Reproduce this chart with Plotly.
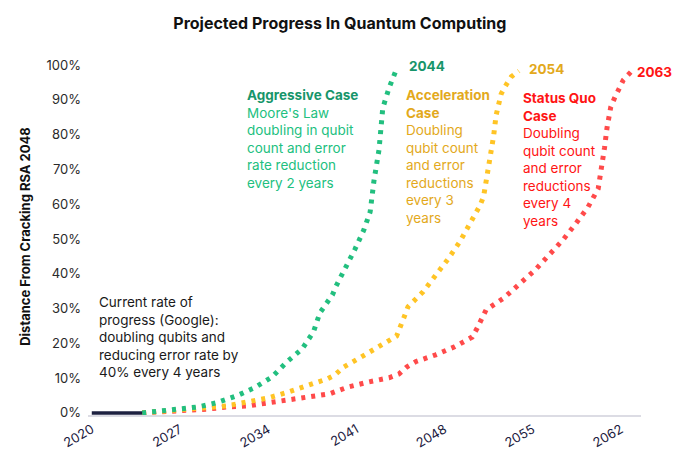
import plotly.graph_objects as go

# current rate (solid dark segment)
current_years = [2020, 2024]
current_vals = [0, 0]

# Aggressive case - doubling every 2 years
aggressive_years = [2024, 2026.8, 2028.4, 2029.9, 2031.5, 2032.9, 2034.3, 2035.5, 2036.7, 2037.6,
                    2038.1, 2039.1, 2039.4, 2040.9, 2041.6, 2042.1, 2042.4, 2042.8, 2043.1, 2043.6, 2044.2]
aggressive_vals = [0, 0.011, 0.017, 0.029, 0.049, 0.072, 0.103, 0.147, 0.184, 0.233,
                   0.287, 0.339, 0.365, 0.471, 0.526, 0.578, 0.667, 0.756, 0.876, 0.934, 0.989]

# Acceleration case - every 3 years
accel_years = [2024, 2027, 2030.7, 2032.4, 2034.0, 2035.6, 2037.1, 2038.7, 2039.3, 2040.0, 2041.4,
               2042.8, 2044.2, 2044.8, 2045.1, 2046.3, 2047.3, 2048.3, 2049.2, 2050.0, 2050.8,
               2051.1, 2051.4, 2051.7, 2051.9, 2052.1, 2052.5, 2052.9, 2053.3, 2053.9]
accel_vals = [0, 0.008, 0.020, 0.032, 0.043, 0.060, 0.078, 0.098, 0.109, 0.132, 0.161,
              0.190, 0.221, 0.276, 0.305, 0.348, 0.394, 0.443, 0.491, 0.540, 0.595,
              0.621, 0.681, 0.739, 0.796, 0.856, 0.917, 0.943, 0.966, 0.983]

# Status quo case - every 4 years
status_years = [2024, 2025.9, 2027.6, 2029.2, 2030.7, 2032.4, 2034.0, 2035.7, 2037.3, 2038.9,
                2039.7, 2040.4, 2042.0, 2043.6, 2044.4, 2045.0, 2045.7, 2047.3, 2048.8, 2050.2,
                2050.6, 2050.9, 2051.3, 2052.7, 2053.9, 2055.2, 2056.3, 2057.4, 2058.4, 2059.4,
                2060.2, 2060.5, 2060.7, 2060.9, 2061.2, 2061.5, 2061.8, 2062.2, 2062.8]
status_vals = [0, 0.003, 0.009, 0.011, 0.017, 0.020, 0.029, 0.037, 0.046, 0.055,
               0.066, 0.075, 0.089, 0.101, 0.112, 0.132, 0.147, 0.167, 0.190, 0.218,
               0.244, 0.270, 0.296, 0.330, 0.371, 0.411, 0.454, 0.497, 0.543, 0.592,
               0.644, 0.704, 0.761, 0.819, 0.879, 0.905, 0.931, 0.957, 0.980]

x_ticks = [2020, 2027, 2034, 2041, 2048, 2055, 2062]
y_ticks = [0, 0.1, 0.2, 0.3, 0.4, 0.5, 0.6, 0.7, 0.8, 0.9, 1.0]

FONT = "Inter"
GREEN, GREEN_T = "#22bf7f", "#17956a"
YELLOW, YELLOW_T = "#ffc425", "#e3a91c"
RED, RED_T = "#ff4a4a", "#ff1414"
DOTS = "4px,6px"

fig = go.Figure()

fig.add_trace(go.Scatter(x=status_years, y=status_vals, mode="lines",
                         line=dict(color=RED, width=5, dash=DOTS)))
fig.add_trace(go.Scatter(x=accel_years, y=accel_vals, mode="lines",
                         line=dict(color=YELLOW, width=5, dash=DOTS)))
fig.add_trace(go.Scatter(x=aggressive_years, y=aggressive_vals, mode="lines",
                         line=dict(color=GREEN, width=5, dash=DOTS)))
fig.add_trace(go.Scatter(x=current_years, y=current_vals, mode="lines",
                         line=dict(color="#1c2040", width=3.5)))

def note(text, x, y, color, yanchor="top", size=13.5):
    return dict(text=text, x=x, y=y, xref="paper", yref="paper", xanchor="left",
                yanchor=yanchor, align="left", showarrow=False,
                font=dict(family=FONT, size=size, color=color))

annotations = [
    note(f"<span style='color:{GREEN_T}'><b>Aggressive Case</b></span><br>Moore's Law<br>"
         "doubling in qubit<br>count and error<br>rate reduction<br>every 2 years",
         0.284, 0.925, GREEN),
    note(f"<span style='color:{YELLOW_T}'><b>Acceleration<br>Case</b></span><br>Doubling<br>"
         "qubit count<br>and error<br>reductions<br>every 3<br>years",
         0.571, 0.925, YELLOW_T),
    note(f"<b>Status Quo<br>Case</b><br>Doubling<br>qubit count<br>and error<br>"
         "reductions<br>every 4<br>years",
         0.783, 0.916, RED_T),
    note("Current rate of<br>progress (Google):<br>doubling qubits and<br>"
         "reducing error rate by<br>40% every 4 years",
         0.016, 0.345, "#1a1a1a"),
    note("<b>2044</b>", 0.576, 0.978, GREEN_T, yanchor="middle"),
    note("<b>2054</b>", 0.794, 0.969, YELLOW_T, yanchor="middle"),
    note("<b>2063</b>", 0.99, 0.961, RED_T, yanchor="middle"),
]

# page body adds an 8px offset, so margins are shifted left/up by 8px
fig.update_layout(
    width=680, height=476,
    margin=dict(l=80, r=47, t=50, b=69),
    paper_bgcolor="white", plot_bgcolor="white",
    showlegend=False,
    title=dict(text="<b>Projected Progress In Quantum Computing</b>",
               x=0.488, xanchor="center", y=0.967, yanchor="middle",
               font=dict(family=FONT, size=16, color="#111111")),
    font=dict(family=FONT, color="#222222"),
    annotations=annotations,
)

fig.update_xaxes(range=[2019.7, 2063.6], tickvals=x_ticks, tickangle=-30,
                 showgrid=False, zeroline=False, showline=True, automargin=False,
                 linecolor="#dcdce4", linewidth=2, ticks="",
                 tickfont=dict(family=FONT, size=13, color="#1c2040"))
fig.update_yaxes(range=[-0.006, 1.02], tickvals=y_ticks, tickformat=".0%",
                 showgrid=False, zeroline=False, showline=False, ticks="", automargin=False,
                 ticklabelstandoff=6,
                 tickfont=dict(family=FONT, size=13, color="#2a2a2a"),
                 title=dict(text="<b>Distance From Cracking RSA 2048</b>", standoff=12,
                            font=dict(family=FONT, size=13, color="#111111")))

fig.write_html("out.html")
